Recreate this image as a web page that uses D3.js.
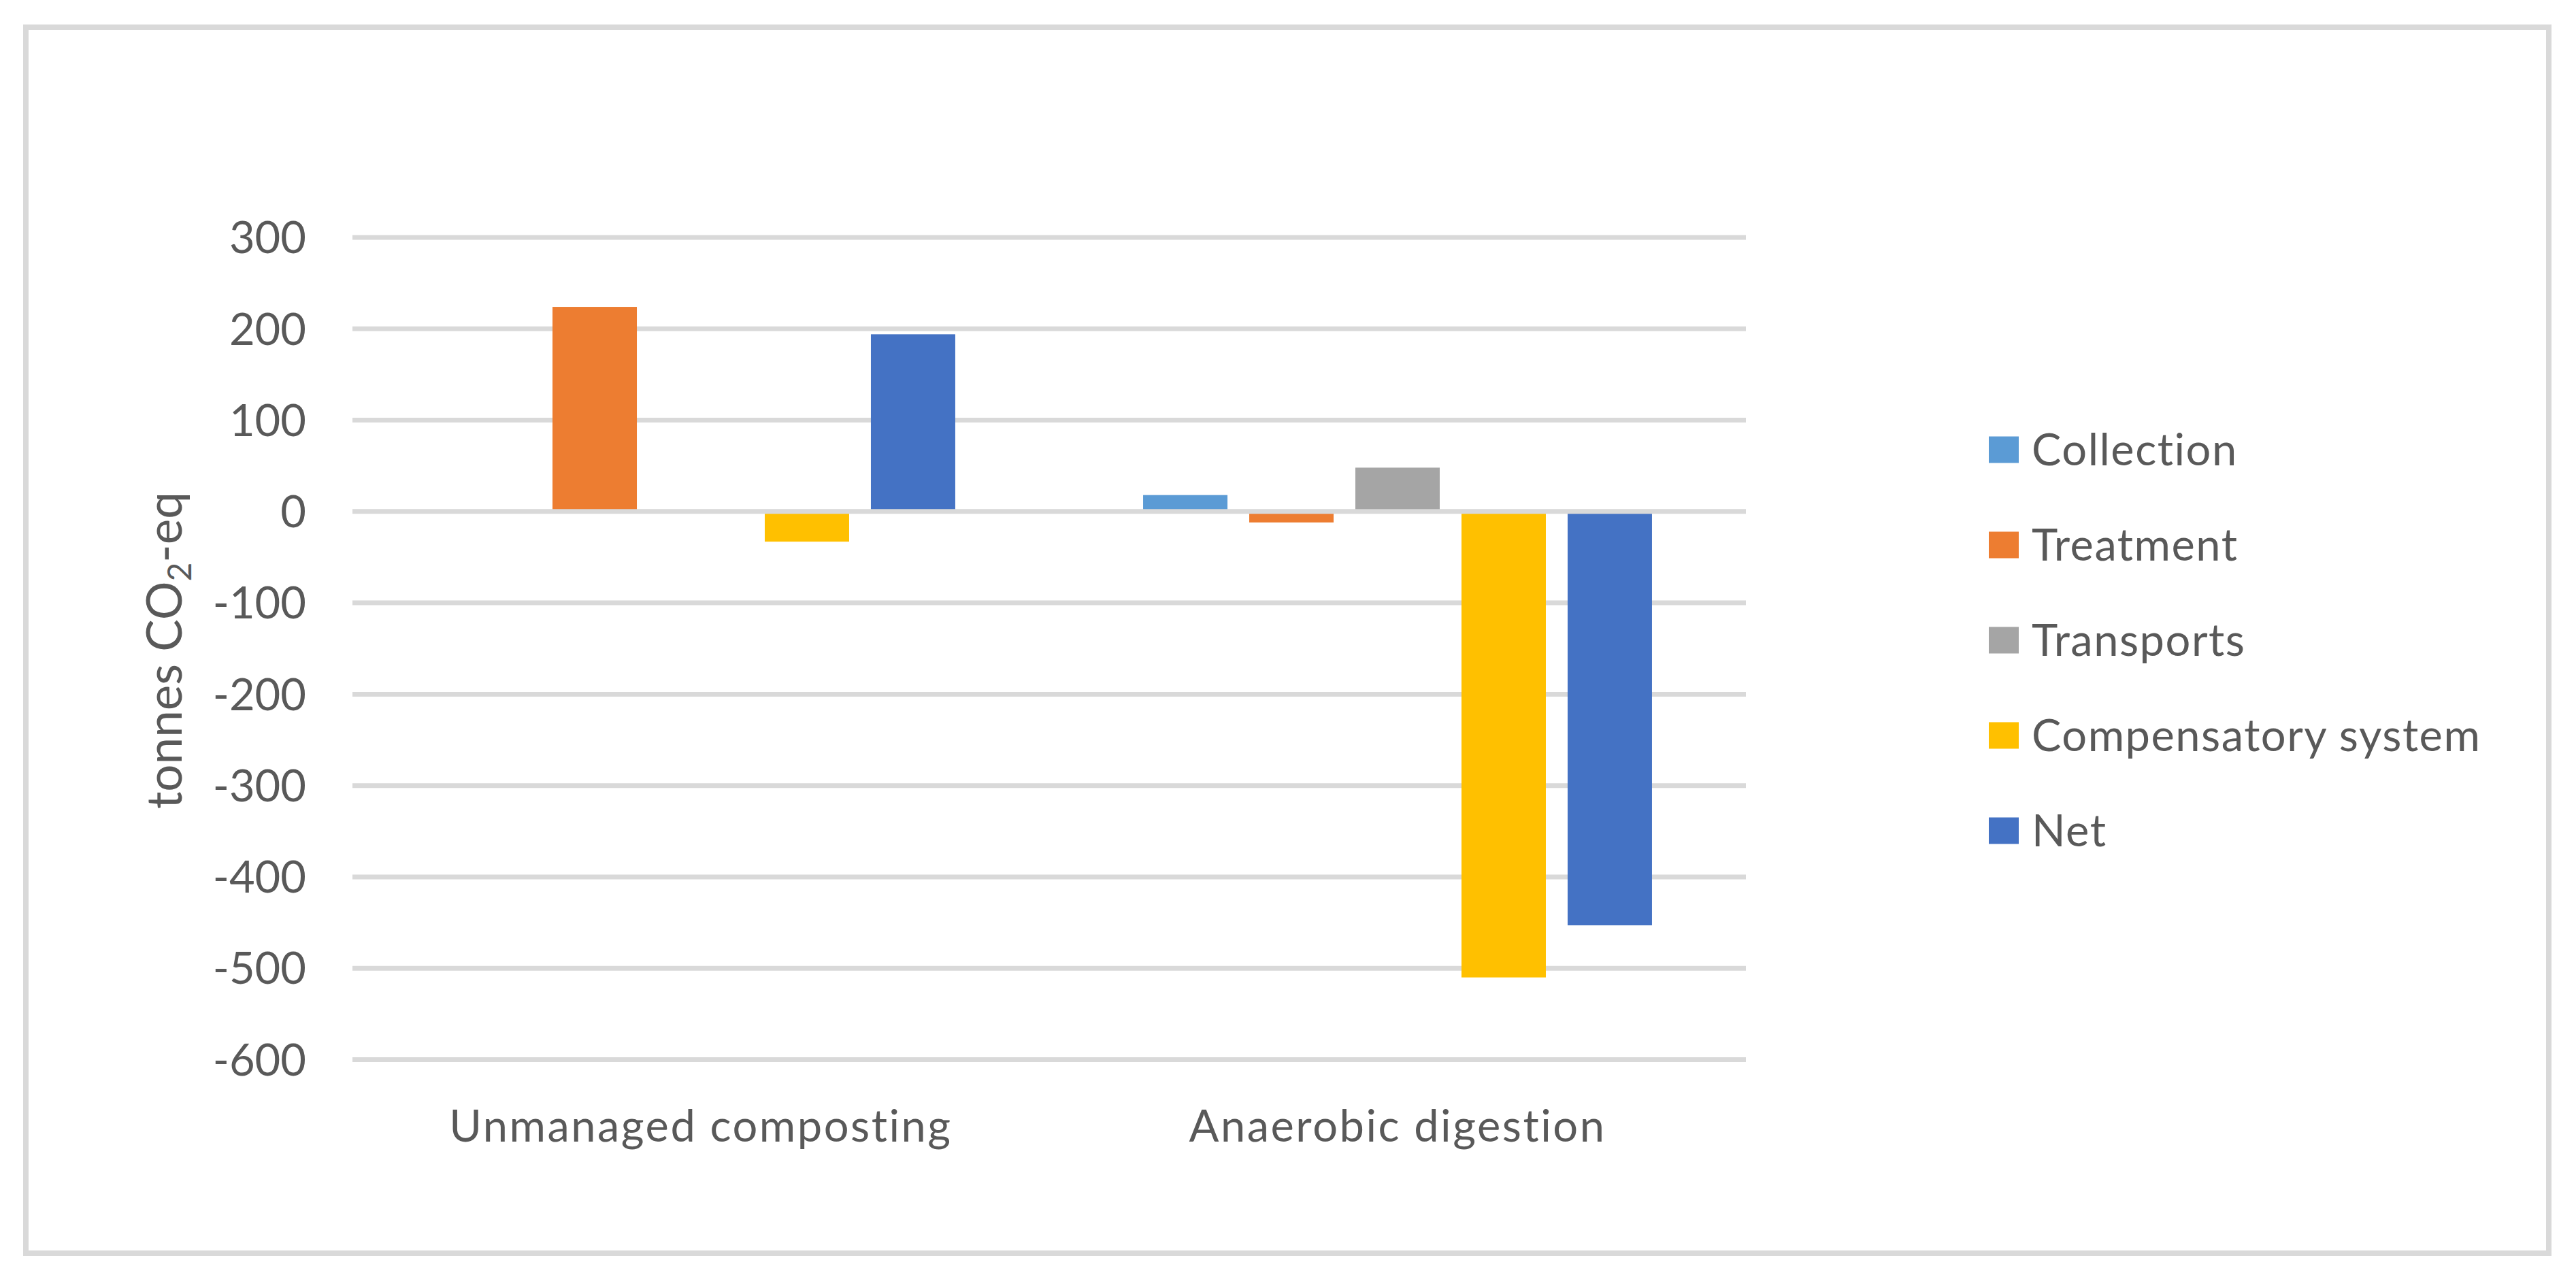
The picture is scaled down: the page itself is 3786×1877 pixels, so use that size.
<!DOCTYPE html>
<html>
<head>
<meta charset="utf-8">
<script src="https://cdn.jsdelivr.net/npm/d3@7"></script>
<style>
  body { margin: 0; background: #fff; }
  text { font-family: Lato, 'Open Sans', sans-serif; fill: #595959; }
</style>
</head>
<body>
<script>
let categories = ['Unmanaged composting', 'Anaerobic digestion']
let seriesNames = ['Collection', 'Treatment', 'Transports', 'Compensatory system', 'Net']
let collection = [0, 18]
let treatment = [224, -12]
let transports = [0, 48]
let compensatory = [-33, -510]
let net = [194, -453]
let yTicks = [300, 200, 100, 0, -100, -200, -300, -400, -500, -600]
let colors = ['#5B9BD5', '#ED7D31', '#A5A5A5', '#FFC000', '#4472C4']

let seriesValues = [collection, treatment, transports, compensatory, net]

let width = 3786
let height = 1877
let plotLeft = 518
let plotRight = 2566

let svg
let xScale
let xInner
let yScale

let drawSvg = () => {
    svg = d3.select('body').append('svg').attr('width', width).attr('height', height)

    svg.append('rect')
       .attr('x', 38).attr('y', 40)
       .attr('width', 3708).attr('height', 1802)
       .attr('fill', '#fff')
       .attr('stroke', '#d9d9d9')
       .attr('stroke-width', 8)
}

let generateScales = () => {
    xScale = d3.scaleBand()
               .domain(categories)
               .range([plotLeft, plotRight])
               .padding(0)

    // inner band for the five series inside each category
    xInner = d3.scaleBand()
               .domain(seriesNames)
               .range([0, xScale.bandwidth()])
               .paddingInner(0.205)
               .paddingOuter(0.885)

    yScale = d3.scaleLinear()
               .domain([-600, 300])
               .range([1557.5, 349])
}

let drawAxis = () => {
    let grid = svg.append('g').attr('id', 'grid')
    grid.selectAll('line')
        .data(yTicks.filter(d => d !== 0))
        .enter()
        .append('line')
        .attr('x1', plotLeft).attr('x2', plotRight)
        .attr('y1', d => yScale(d)).attr('y2', d => yScale(d))
        .attr('stroke', '#d9d9d9')
        .attr('stroke-width', 7)

    let yAxis = d3.axisLeft(yScale)
                  .tickValues(yTicks)
                  .tickSize(0)
                  .tickPadding(0)
                  .tickFormat(d => d < 0 ? '-' + Math.abs(d) : d)

    let g = svg.append('g')
       .attr('id', 'y-axis')
       .attr('transform', 'translate(450,0)')
       .call(yAxis)
    g.select('.domain').remove()
    g.selectAll('text')
     .attr('font-size', 65)
     .attr('font-family', null)
     .attr('fill', '#595959')
     .attr('dy', '0.35em')

    svg.append('g')
       .attr('id', 'x-axis')
       .selectAll('text')
       .data(categories)
       .enter()
       .append('text')
       .attr('x', d => xScale(d) + xScale.bandwidth() / 2)
       .attr('y', 1678)
       .attr('text-anchor', 'middle')
       .attr('font-size', 65)
       .attr('letter-spacing', 2.5)
       .text(d => d)

    let title = svg.append('text')
       .attr('transform', 'translate(267,956) rotate(-90)')
       .attr('text-anchor', 'middle')
       .attr('font-size', 71)
    title.append('tspan').text('tonnes CO')
    title.append('tspan').attr('font-size', 48).attr('dy', 14).text('2')
    title.append('tspan').attr('dy', -14).text('-eq')
}

let drawBars = () => {
    let groups = svg.append('g')
       .selectAll('g')
       .data(categories)
       .enter()
       .append('g')
       .attr('transform', d => 'translate(' + xScale(d) + ',0)')

    groups.selectAll('rect')
          .data((c, ci) => seriesNames.map((s, si) => ({ s: s, v: seriesValues[si][ci], color: colors[si] })))
          .enter()
          .filter(d => d.v !== 0)
          .append('rect')
          .attr('x', d => xInner(d.s))
          .attr('width', xInner.bandwidth())
          .attr('y', d => yScale(Math.max(0, d.v)))
          .attr('height', d => Math.abs(yScale(d.v) - yScale(0)))
          .attr('fill', d => d.color)

    // zero line sits on top of the bars
    svg.append('line')
       .attr('x1', plotLeft).attr('x2', plotRight)
       .attr('y1', yScale(0)).attr('y2', yScale(0))
       .attr('stroke', '#d9d9d9')
       .attr('stroke-width', 7)
}

let drawLegend = () => {
    let legend = svg.append('g').attr('id', 'legend')
    let item = legend.selectAll('g')
          .data(seriesNames)
          .enter()
          .append('g')
          .attr('transform', (d, i) => 'translate(2923,' + (661 + i * 140) + ')')

    item.append('rect')
        .attr('x', 0).attr('y', -19.5)
        .attr('width', 44).attr('height', 39)
        .attr('fill', (d, i) => colors[i])

    item.append('text')
        .attr('x', 63).attr('y', 0)
        .attr('dy', '0.35em')
        .attr('font-size', 65)
        .attr('letter-spacing', 1.5)
        .text(d => d)
}

drawSvg()
generateScales()
drawAxis()
drawBars()
drawLegend()
</script>
</body>
</html>
